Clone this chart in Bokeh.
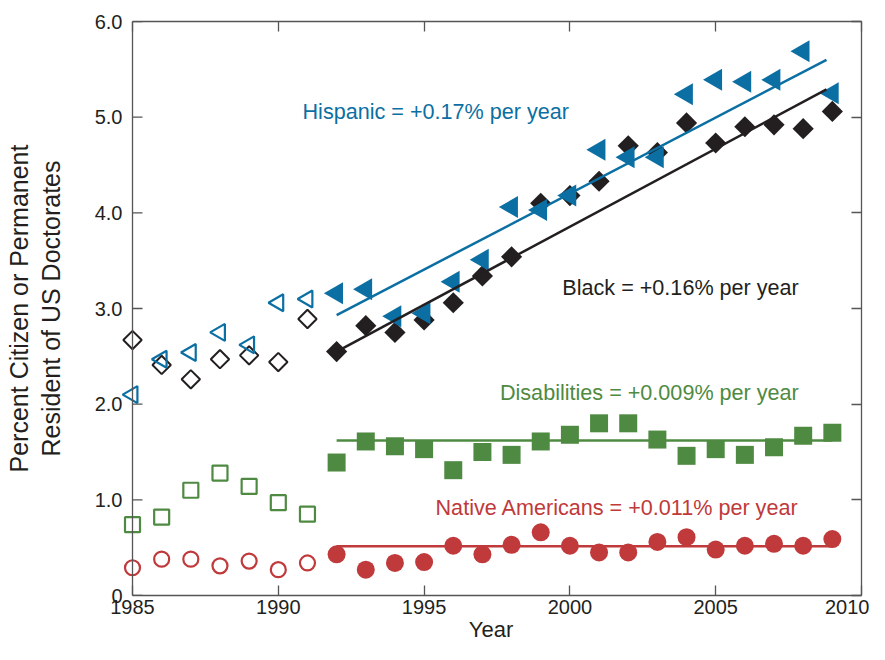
import numpy as np
from bokeh.plotting import figure
from bokeh.models import Range1d, LinearAxis, FixedTicker, CustomJSTickFormatter, Span
from bokeh.embed import file_html
from bokeh.resources import INLINE
from bokeh.core.properties import value

# ---------------- data ----------------
years_early = [1985, 1986, 1987, 1988, 1989, 1990, 1991]
years_late = list(range(1992, 2010))

hispanic_early = [2.10, 2.47, 2.54, 2.75, 2.62, 3.06, 3.10]
hispanic_late = [3.16, 3.20, 2.92, 2.95, 3.28, 3.51, 4.06, 4.03, 4.18,
                 4.66, 4.58, 4.58, 5.24, 5.39, 5.37, 5.39, 5.69, 5.25]

black_early = [2.67, 2.41, 2.26, 2.47, 2.51, 2.44, 2.89]
black_late = [2.55, 2.82, 2.75, 2.88, 3.06, 3.34, 3.54, 4.10, 4.18,
              4.33, 4.70, 4.63, 4.94, 4.73, 4.90, 4.92, 4.88, 5.06]

disab_early = [0.74, 0.82, 1.10, 1.28, 1.14, 0.97, 0.85]
disab_late = [1.39, 1.61, 1.56, 1.53, 1.31, 1.50, 1.47, 1.61, 1.68,
              1.80, 1.80, 1.63, 1.46, 1.53, 1.47, 1.55, 1.67, 1.70]

native_early = [0.29, 0.38, 0.38, 0.31, 0.36, 0.27, 0.34]
native_late = [0.43, 0.27, 0.34, 0.35, 0.52, 0.43, 0.53, 0.66, 0.52,
               0.45, 0.45, 0.56, 0.61, 0.48, 0.52, 0.54, 0.52, 0.59]

# fitted trend lines (end points)
trend_years_steep = [1992, 2008.8]
hispanic_trend = [2.93, 5.60]
black_trend = [2.55, 5.29]
trend_years_flat = [1992, 2009]
disab_trend = [1.62, 1.62]
native_trend = [0.515, 0.515]

x_start, x_end = 1985, 2010
y_start, y_end = 0, 6
x_ticks = [1985, 1990, 1995, 2000, 2005, 2010]
y_ticks = [0, 1, 2, 3, 4, 5, 6]

labels = {
    "hispanic": "Hispanic = +0.17% per year",
    "black": "Black = +0.16% per year",
    "disab": "Disabilities = +0.009% per year",
    "native": "Native Americans = +0.011% per year",
}

# ---------------- style ----------------
BLUE = "#0b6fa3"
BLACK = "#231f20"
GREEN = "#4f8a42"
RED = "#c0393b"
TXT = "#231f20"
AX = "#555555"
FONT = "Liberation Sans"

# small extra strip left of 1985 so the 1985 markers are not clipped by the frame
left_pad = 0.4115          # years (~12 px)
tick_len = 10 / 29.16      # 10 px expressed in years

p = figure(width=869, height=644,
           x_range=Range1d(x_start - left_pad, x_end), y_range=Range1d(y_start, y_end),
           output_backend="svg", toolbar_location=None,
           min_border_left=120, min_border_right=8, min_border_top=21, min_border_bottom=49)
p.outline_line_color = None
p.xgrid.visible = False
p.ygrid.visible = False
p.background_fill_color = "white"
p.border_fill_color = "white"


def style_axis(ax):
    ax.axis_line_color = AX
    ax.axis_line_width = 1.3
    ax.major_tick_line_color = AX
    ax.major_tick_line_width = 1.3
    ax.major_tick_in = 10
    ax.major_tick_out = 0
    ax.minor_tick_line_color = None
    ax.major_label_text_font = FONT
    ax.major_label_text_color = TXT
    ax.major_label_text_font_size = "20px"
    ax.axis_label_text_font = FONT
    ax.axis_label_text_color = TXT
    ax.axis_label_text_font_style = "normal"


xa = p.xaxis[0]
ya = p.yaxis[0]
style_axis(xa)
style_axis(ya)
xa.ticker = FixedTicker(ticks=x_ticks)
ya.ticker = FixedTicker(ticks=y_ticks)
xa.bounds = (x_start, x_end)
# the left axis sits at the padded frame edge: keep only its labels,
# its line and ticks are drawn at 1985 below
ya.axis_line_color = None
ya.major_tick_line_color = None
ya.formatter = CustomJSTickFormatter(code="return tick == 0 ? '0' : tick.toFixed(1);")
xa.formatter = CustomJSTickFormatter(code="return tick.toFixed(0);")
xa.major_label_standoff = 4
ya.major_label_standoff = -2
xa.axis_label = "Year"
xa.axis_label_text_font_size = "22px"
xa.axis_label_standoff = 0
ya.axis_label = "Percent Citizen or Permanent\nResident of US Doctorates"
ya.axis_label_text_font_size = "25px"
ya.axis_label_text_line_height = 1.12
ya.axis_label_standoff = 27

blank = CustomJSTickFormatter(code="return '';")
ra = LinearAxis(ticker=FixedTicker(ticks=y_ticks), formatter=blank)
ta = LinearAxis(ticker=FixedTicker(ticks=x_ticks), formatter=blank, bounds=(x_start, x_end))
for ax in (ra, ta):
    style_axis(ax)
    ax.major_label_text_font_size = "1px"
    ax.major_label_standoff = 0
p.add_layout(ra, "right")
p.add_layout(ta, "above")

# left axis line and inward ticks at x = 1985
p.add_layout(Span(location=x_start, dimension="height", line_color=AX, line_width=1.3))
p.segment(x0=[x_start] * len(y_ticks), y0=y_ticks,
          x1=[x_start + tick_len] * len(y_ticks), y1=y_ticks,
          line_color=AX, line_width=1.3)

# ---------------- markers ----------------
# open (1985-1991)
p.scatter(years_early, black_early, marker="square", angle=np.pi / 4, size=13,
          fill_color=None, line_color=BLACK, line_width=2)
p.scatter(years_early, hispanic_early, marker="triangle", angle=np.pi / 2, size=17,
          fill_color=None, line_color=BLUE, line_width=2.2)
p.scatter(years_early, disab_early, marker="square", size=15,
          fill_color=None, line_color=GREEN, line_width=2.2)
p.scatter(years_early, native_early, marker="circle", size=15,
          fill_color=None, line_color=RED, line_width=2.2)

# filled (1992-2009)
p.scatter(years_late, black_late, marker="square", angle=np.pi / 4, size=15,
          fill_color=BLACK, line_color=None)
p.scatter(years_late, hispanic_late, marker="triangle", angle=np.pi / 2, size=22,
          fill_color=BLUE, line_color=None)
p.scatter(years_late, disab_late, marker="square", size=18,
          fill_color=GREEN, line_color=None)
p.scatter(years_late, native_late, marker="circle", size=18,
          fill_color=RED, line_color=None)

# trend lines
p.line(trend_years_steep, hispanic_trend, line_color=BLUE, line_width=2.5)
p.line(trend_years_steep, black_trend, line_color=BLACK, line_width=2.5)
p.line(trend_years_flat, disab_trend, line_color=GREEN, line_width=2.5)
p.line(trend_years_flat, native_trend, line_color=RED, line_width=2.5)

# annotations
common = dict(text_font=value(FONT), text_font_size="21.6px", text_baseline="alphabetic")
p.text(x=[1990.83], y=[5.06], text=[labels["hispanic"]], text_color=BLUE,
       text_align="left", **common)
p.text(x=[2007.85], y=[3.215], text=[labels["black"]], text_color=TXT,
       text_align="right", **common)
p.text(x=[2007.85], y=[2.118], text=[labels["disab"]], text_color=GREEN,
       text_align="right", **common)
p.text(x=[2007.85], y=[0.916], text=[labels["native"]], text_color=RED,
       text_align="right", **common)

open("out.html", "w").write(file_html(p, INLINE))
